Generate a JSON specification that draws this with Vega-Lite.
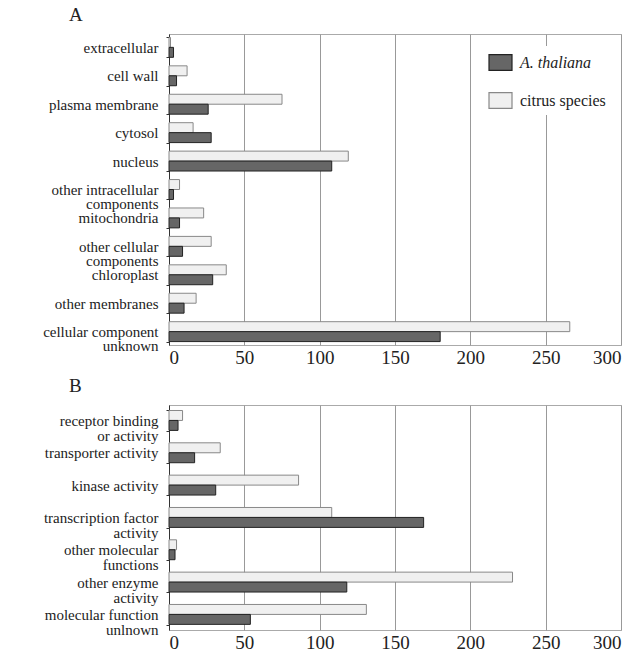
{
  "$schema": "https://vega.github.io/schema/vega-lite/v6.json",
  "padding": {"left": 5, "top": 5, "right": 5, "bottom": 5},
  "background": "white",
  "config": {
    "font": "Liberation Serif",
    "view": {"stroke": "#aaaaaa"},
    "title": {"font": "Liberation Serif", "fontSize": 19, "fontWeight": "normal", "color": "#222222", "anchor": "start", "frame": "group", "dx": -100, "offset": 2},
    "axis": {"labelFont": "Liberation Serif", "labelColor": "#222222", "titleFont": "Liberation Serif"},
    "legend": {"labelFont": "Liberation Serif"}
  },
  "datasets": {
    "A": [
      {"category": "extracellular", "series": "citrus species", "value": 1},
      {"category": "extracellular", "series": "A. thaliana", "value": 3},
      {"category": "cell wall", "series": "citrus species", "value": 12},
      {"category": "cell wall", "series": "A. thaliana", "value": 5},
      {"category": "plasma membrane", "series": "citrus species", "value": 75},
      {"category": "plasma membrane", "series": "A. thaliana", "value": 26},
      {"category": "cytosol", "series": "citrus species", "value": 16},
      {"category": "cytosol", "series": "A. thaliana", "value": 28},
      {"category": "nucleus", "series": "citrus species", "value": 119},
      {"category": "nucleus", "series": "A. thaliana", "value": 108},
      {"category": "other intracellular\ncomponents", "series": "citrus species", "value": 7},
      {"category": "other intracellular\ncomponents", "series": "A. thaliana", "value": 3},
      {"category": "mitochondria", "series": "citrus species", "value": 23},
      {"category": "mitochondria", "series": "A. thaliana", "value": 7},
      {"category": "other cellular\ncomponents", "series": "citrus species", "value": 28},
      {"category": "other cellular\ncomponents", "series": "A. thaliana", "value": 9},
      {"category": "chloroplast", "series": "citrus species", "value": 38},
      {"category": "chloroplast", "series": "A. thaliana", "value": 29},
      {"category": "other membranes", "series": "citrus species", "value": 18},
      {"category": "other membranes", "series": "A. thaliana", "value": 10},
      {"category": "cellular component\nunknown", "series": "citrus species", "value": 266},
      {"category": "cellular component\nunknown", "series": "A. thaliana", "value": 180}
    ],
    "B": [
      {"category": "receptor binding\nor activity", "series": "citrus species", "value": 9},
      {"category": "receptor binding\nor activity", "series": "A. thaliana", "value": 6},
      {"category": "transporter activity", "series": "citrus species", "value": 34},
      {"category": "transporter activity", "series": "A. thaliana", "value": 17},
      {"category": "kinase activity", "series": "citrus species", "value": 86},
      {"category": "kinase activity", "series": "A. thaliana", "value": 31},
      {"category": "transcription factor\nactivity", "series": "citrus species", "value": 108},
      {"category": "transcription factor\nactivity", "series": "A. thaliana", "value": 169},
      {"category": "other molecular\nfunctions", "series": "citrus species", "value": 5},
      {"category": "other molecular\nfunctions", "series": "A. thaliana", "value": 4},
      {"category": "other enzyme\nactivity", "series": "citrus species", "value": 228},
      {"category": "other enzyme\nactivity", "series": "A. thaliana", "value": 118},
      {"category": "molecular function\nunlnown", "series": "citrus species", "value": 131},
      {"category": "molecular function\nunlnown", "series": "A. thaliana", "value": 54}
    ]
  },
  "resolve": {"legend": {"fill": "independent", "stroke": "independent"}},
  "spacing": 8,
  "vconcat": [
    {
      "title": "A",
      "width": 452,
      "height": 311,
      "data": {"name": "A"},
      "mark": {"type": "bar", "strokeWidth": 1},
      "encoding": {
        "y": {"field": "category", "type": "nominal", "sort": null, "title": null,
          "scale": {"paddingInner": 0.3, "paddingOuter": 0.12},
          "axis": {"labelExpr": "split(datum.label, '\\n')", "labelFont": "Liberation Serif", "labelFontSize": 15, "labelLineHeight": 14, "labelPadding": 8, "minExtent": 163, "maxExtent": 163, "domainColor": "#333333", "tickColor": "#333333", "tickSize": 3, "tickBand": "extent", "labelLimit": 200, "labelOverlap": false}},
        "yOffset": {"field": "series", "type": "nominal", "scale": {"domain": ["citrus species", "A. thaliana"], "paddingInner": 0, "paddingOuter": 0}},
        "x": {"field": "value", "type": "quantitative", "title": null,
          "scale": {"domain": [0, 300], "nice": false},
          "axis": {"values": [0, 50, 100, 150, 200, 250, 300], "labelFont": "Liberation Serif", "labelFontSize": 19, "gridColor": "#999999", "gridOpacity": 1, "domain": false, "ticks": false, "labelPadding": 3, "labelColor": "#222222"}},
        "fill": {"field": "series", "type": "nominal",
          "scale": {"domain": ["A. thaliana", "citrus species"], "range": ["#666666", "#f0f0f0"]},
          "legend": {"title": null, "orient": "none", "legendX": 315, "legendY": 12, "fillColor": "white", "padding": 4, "rowPadding": 15, "labelFont": "Liberation Serif", "labelFontSize": 16, "labelColor": "#222222", "symbolType": "M-1,-0.68H1V0.68H-1Z", "symbolSize": 529, "symbolStrokeWidth": 1.2, "labelOffset": 7,
            "encode": {"labels": {"update": {"fontStyle": {"signal": "datum.value == 'A. thaliana' ? 'italic' : 'normal'"}}}}}},
        "stroke": {"field": "series", "type": "nominal",
          "scale": {"domain": ["A. thaliana", "citrus species"], "range": ["#222222", "#888888"]},
          "legend": {"title": null, "orient": "none", "legendX": 315, "legendY": 12, "fillColor": "white", "padding": 4, "rowPadding": 15, "labelFont": "Liberation Serif", "labelFontSize": 16, "labelColor": "#222222", "symbolType": "M-1,-0.68H1V0.68H-1Z", "symbolSize": 529, "symbolStrokeWidth": 1.2, "labelOffset": 7,
            "encode": {"labels": {"update": {"fontStyle": {"signal": "datum.value == 'A. thaliana' ? 'italic' : 'normal'"}}}}}}
      }
    },
    {
      "title": "B",
      "width": 452,
      "height": 225,
      "data": {"name": "B"},
      "mark": {"type": "bar", "strokeWidth": 1},
      "encoding": {
        "y": {"field": "category", "type": "nominal", "sort": null, "title": null,
          "scale": {"paddingInner": 0.38, "paddingOuter": 0.17},
          "axis": {"labelExpr": "split(datum.label, '\\n')", "labelFont": "Liberation Serif", "labelFontSize": 15, "labelLineHeight": 15, "labelPadding": 8, "minExtent": 163, "maxExtent": 163, "domainColor": "#333333", "tickColor": "#333333", "tickSize": 3, "tickBand": "extent", "labelLimit": 200, "labelOverlap": false}},
        "yOffset": {"field": "series", "type": "nominal", "scale": {"domain": ["citrus species", "A. thaliana"], "paddingInner": 0, "paddingOuter": 0}},
        "x": {"field": "value", "type": "quantitative", "title": null,
          "scale": {"domain": [0, 300], "nice": false},
          "axis": {"values": [0, 50, 100, 150, 200, 250, 300], "labelFont": "Liberation Serif", "labelFontSize": 19, "gridColor": "#999999", "gridOpacity": 1, "domain": false, "ticks": false, "labelPadding": 3, "labelColor": "#222222"}},
        "fill": {"field": "series", "type": "nominal",
          "scale": {"domain": ["A. thaliana", "citrus species"], "range": ["#666666", "#f0f0f0"]},
          "legend": null},
        "stroke": {"field": "series", "type": "nominal",
          "scale": {"domain": ["A. thaliana", "citrus species"], "range": ["#222222", "#888888"]},
          "legend": null}
      }
    }
  ]
}
